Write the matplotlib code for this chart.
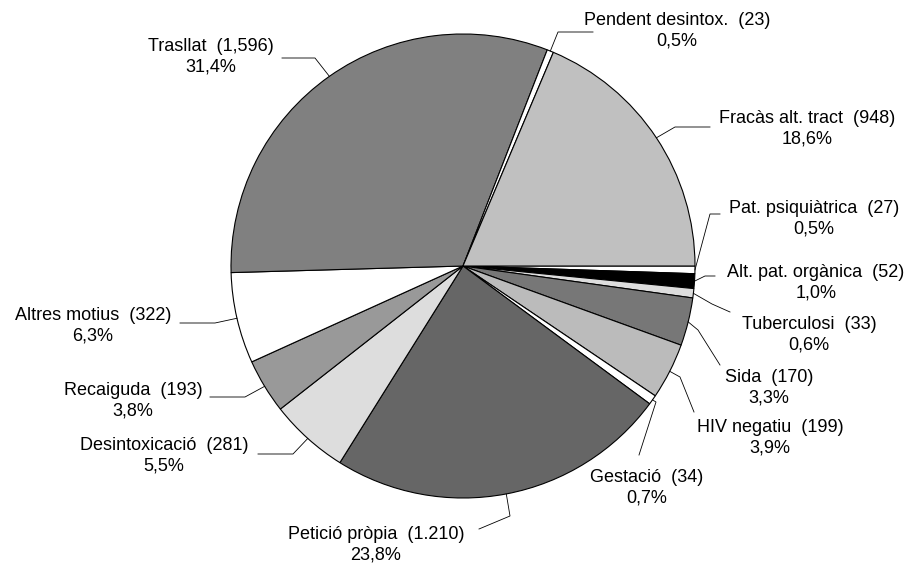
import matplotlib
matplotlib.use('Agg')
import matplotlib.pyplot as plt
import numpy as np

# slices, clockwise starting at 3 o'clock
names = ['Pat. psiquiàtrica', 'Alt. pat. orgànica', 'Tuberculosi', 'Sida',
         'HIV negatiu', 'Gestació', 'Petició pròpia', 'Desintoxicació',
         'Recaiguda', 'Altres motius', 'Trasllat', 'Pendent desintox.',
         'Fracàs alt. tract']
values = [27, 52, 33, 170, 199, 34, 1210, 281, 193, 322, 1596, 23, 948]
colors = ['#ffffff', '#000000', '#dddddd', '#777777', '#bbbbbb', '#ffffff',
          '#666666', '#dddddd', '#999999', '#ffffff', '#808080', '#ffffff',
          '#c0c0c0']

# label layout in pixel coords (origin top-left): text centre, elbow, end of leader
text_xy = [(814, 219), (816, 283), (809, 335), (769, 388), (770, 438),
           (647, 488), (376, 545), (164, 456), (133, 401), (93, 326),
           (211, 57), (677, 31), (807, 129)]
elbow_xy = [(710, 214), (705, 276), (712, 304), (698, 330), (680, 377),
            (656, 402), (510, 516), (293, 454), (245, 397), (215, 323),
            (315, 58), (558, 32), (675, 127)]
end_xy = [(720, 214), (715, 276), (730, 312), (720, 365), (694, 412),
          (639, 455), (479, 529), (258, 454), (210, 397), (180, 323),
          (282, 58), (593, 32), (710, 127)]

W, H = 916, 563
cx, cy, R = 463, 266, 232

plt.rcParams['font.family'] = ['Liberation Sans', 'DejaVu Sans']

fig = plt.figure(figsize=(W / 100, H / 100), dpi=100)
ax = fig.add_axes([0, 0, 1, 1])

wedges, _ = ax.pie(values, colors=colors, startangle=0, counterclock=False,
                   center=(cx, H - cy), radius=R, frame=True,
                   wedgeprops=dict(edgecolor='black', linewidth=0.8))
ax.set_xlim(0, W)
ax.set_ylim(0, H)
ax.set_aspect('equal')
ax.axis('off')

total = sum(values)
for i, w in enumerate(wedges):
    mid = np.deg2rad((w.theta1 + w.theta2) / 2)
    ex = cx + R * np.cos(mid)
    ey = (H - cy) + R * np.sin(mid)
    xs = [ex, elbow_xy[i][0], end_xy[i][0]]
    ys = [ey, H - elbow_xy[i][1], H - end_xy[i][1]]
    ax.plot(xs, ys, color='black', linewidth=0.6)

    count = f"{values[i]:,}"
    if names[i] == 'Petició pròpia':
        count = count.replace(',', '.')
    pct = f"{values[i] / total * 100:.1f}".replace('.', ',')
    ax.text(text_xy[i][0], H - text_xy[i][1], f"{names[i]}  ({count})\n{pct}%",
            ha='center', va='center', multialignment='center',
            fontsize=13, linespacing=1.3)

fig.savefig('out.png', dpi=100)
